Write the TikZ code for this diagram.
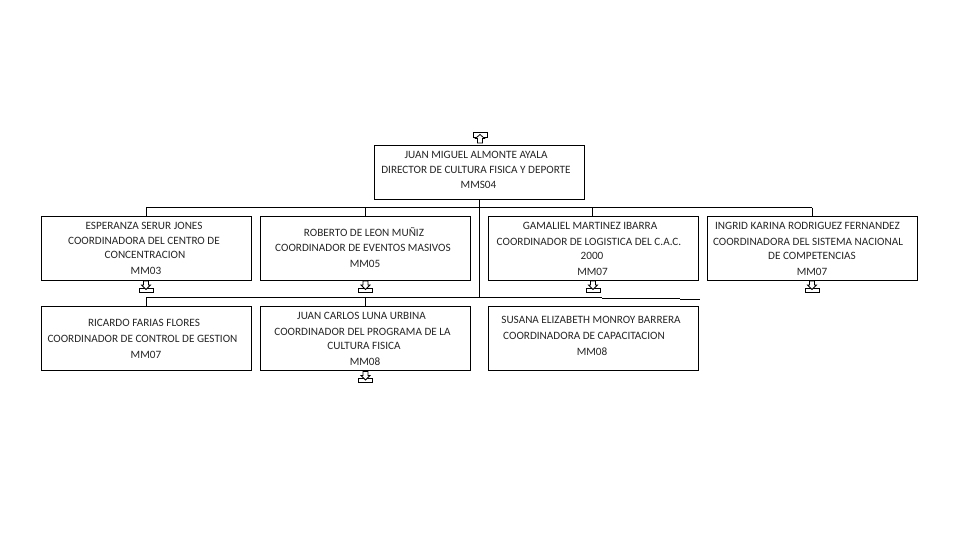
\documentclass[tikz,border=0pt]{standalone}
\usepackage{fontspec}
\setmainfont{Carlito}
\tikzset{
  x=1pt,y=-1pt,
  orgbox/.style={draw=black,line width=1pt,fill=white,minimum width=210pt,minimum height=63.5pt,inner sep=0pt,outer sep=0pt,anchor=north west},
  rowtext/.style={font=\fontsize{11.2pt}{12pt}\selectfont,inner sep=0pt,anchor=center,text=black!85},
  conn/.style={draw=black,line width=1pt},
  glyph/.style={draw=black,line width=0.8pt,fill=white,line join=miter}
}
\newcommand{\downglyph}[1]{\draw[glyph,shift={(#1)}] (-7,1.5) rectangle (7,5.5);
  \draw[glyph,shift={(#1)}] (-2.5,-5.5) -- (2.5,-5.5) -- (2.5,-1.5) -- (4.5,-1.5) -- (0,3) -- (-4.5,-1.5) -- (-2.5,-1.5) -- cycle;}
\newcommand{\upglyph}[1]{\draw[glyph,shift={(#1)}] (-7,-5.5) rectangle (7,-0.5);
  \draw[glyph,shift={(#1)}] (-2.5,5.5) -- (2.5,5.5) -- (2.5,1) -- (4.5,1) -- (0,-3) -- (-4.5,1) -- (-2.5,1) -- cycle;}
\begin{document}
\begin{tikzpicture}
\useasboundingbox (0,0) rectangle (960,540);
\fill[white] (0,0) rectangle (960,540);
% boxes
\node[orgbox,minimum height=54pt] (top) at (374.5,145.5) {};
\node[orgbox] (a) at (41.5,216.5) {};
\node[orgbox] (b) at (260.5,216.5) {};
\node[orgbox] (c) at (488.5,216.5) {};
\node[orgbox] (d) at (707.5,216.5) {};
\node[orgbox,minimum height=64pt] (e) at (41.5,306.5) {};
\node[orgbox,minimum height=64pt] (f) at (260.5,306.5) {};
\node[orgbox,minimum height=64pt] (g) at (488.5,306.5) {};
% connectors
\coordinate (busL) at (146,207.5);
\coordinate (busR) at (812,207.5);
\coordinate (spine) at (479.5,207.5);
\coordinate (spineEnd) at (479.5,298);
\coordinate (low) at (146,297.5);
\coordinate (lowB) at (365.5,297.5);
\coordinate (lowC) at (602,297.5);
\coordinate (lowC2) at (602,298.5);
\coordinate (lowD) at (680,298.5);
\coordinate (lowD2) at (680,299.5);
\coordinate (lowE) at (700,299.5);
\coordinate (busB) at (365.5,207.5);
\coordinate (busC) at (592.5,207.5);
\draw[conn] (top.south -| spine) -- (spineEnd);
\draw[conn] (busL) -- (busR);
\draw[conn] (busL) -- (a.north -| busL);
\draw[conn] (busB) -- (b.north -| busB);
\draw[conn] (busC) -- (c.north -| busC);
\draw[conn] (busR) -- (d.north -| busR);
\draw[conn] (low) -- (lowC);
\draw[conn] (lowC2) -- (lowD);
\draw[conn] (lowD2) -- (lowE);
\draw[conn] (low) -- (e.north -| low);
\draw[conn] (lowB) -- (f.north -| lowB);
% glyphs
\upglyph{480,137.5}
\downglyph{146,286.5}
\downglyph{365.5,286.5}
\downglyph{593,286.5}
\downglyph{812,286.5}
\downglyph{365.5,377}
% text
\node[rowtext] (t1) at (476,155) {JUAN MIGUEL ALMONTE AYALA};
\node[rowtext] (t2) at (476,170) {DIRECTOR DE CULTURA FISICA Y DEPORTE};
\node[rowtext] (t3) at (478.5,185) {MMS04};
\node[rowtext] (a1) at (144,225.5) {ESPERANZA SERUR JONES};
\node[rowtext] (a2) at (144,241) {COORDINADORA DEL CENTRO DE};
\node[rowtext] (a3) at (145,255) {CONCENTRACION};
\node[rowtext] (a4) at (146,271) {MM03};
\node[rowtext] (b1) at (364,232.5) {ROBERTO DE LEON MUÑIZ};
\node[rowtext] (b2) at (363,248) {COORDINADOR DE EVENTOS MASIVOS};
\node[rowtext] (b3) at (365,264) {MM05};
\node[rowtext] (c1) at (590,225.5) {GAMALIEL MARTINEZ IBARRA};
\node[rowtext] (c2) at (589,241.5) {COORDINADOR DE LOGISTICA DEL C.A.C.};
\node[rowtext] (c3) at (592,255.5) {2000};
\node[rowtext] (c4) at (592.5,271.5) {MM07};
\node[rowtext] (d1) at (807.5,225.5) {INGRID KARINA RODRIGUEZ FERNANDEZ};
\node[rowtext] (d2) at (808,241.5) {COORDINADORA DEL SISTEMA NACIONAL};
\node[rowtext] (d3) at (812,255.5) {DE COMPETENCIAS};
\node[rowtext] (d4) at (812,271.5) {MM07};
\node[rowtext] (e1) at (144,323) {RICARDO FARIAS FLORES};
\node[rowtext] (e2) at (142.5,338.5) {COORDINADOR DE CONTROL DE GESTION};
\node[rowtext] (e3) at (146,354.5) {MM07};
\node[rowtext] (f1) at (361.5,316) {JUAN CARLOS LUNA URBINA};
\node[rowtext] (f2) at (362.5,331.5) {COORDINADOR DEL PROGRAMA DE LA};
\node[rowtext] (f3) at (364,345.5) {CULTURA FISICA};
\node[rowtext] (f4) at (365,361.5) {MM08};
\node[rowtext] (g1) at (591,320) {SUSANA ELIZABETH MONROY BARRERA};
\node[rowtext] (g2) at (584,336) {COORDINADORA DE CAPACITACION};
\node[rowtext] (g3) at (592,352) {MM08};
\end{tikzpicture}
\end{document}
